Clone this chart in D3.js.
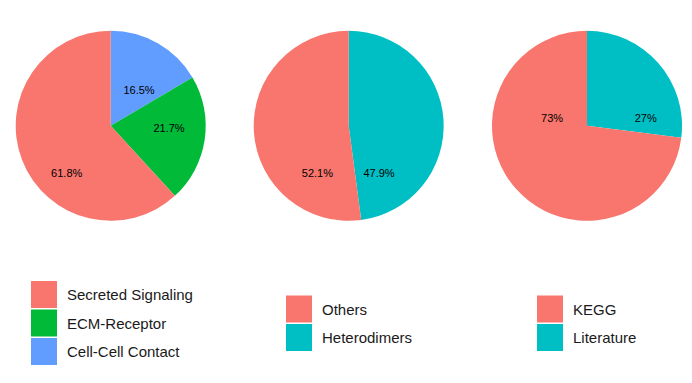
<!DOCTYPE html>
<html><head><meta charset="utf-8">
<script src="https://cdn.jsdelivr.net/npm/d3@7"></script>
<style>body{margin:0;background:#fff}svg{display:block}</style>
</head><body>
<script>
// ---- data ----
const pie1Categories = ["Secreted Signaling", "ECM-Receptor", "Cell-Cell Contact"];
const pie1Values = [61.8, 21.7, 16.5];
const pie1Labels = ["61.8%", "21.7%", "16.5%"];

const pie2Categories = ["Others", "Heterodimers"];
const pie2Values = [52.1, 47.9];
const pie2Labels = ["52.1%", "47.9%"];

const pie3Categories = ["KEGG", "Literature"];
const pie3Values = [73, 27];
const pie3Labels = ["73%", "27%"];

// ---- layout ----
const W = 692, H = 383, R = 95, CY = 125.8;
const palette3 = ["#F8766D", "#00BA38", "#619CFF"];
const palette2 = ["#F8766D", "#00BFC4"];
// label anchors as offsets in units of the radius (as placed in the reference)
const labelOffsets = [
  [[-0.463, 0.50], [0.614, 0.026], [0.298, -0.377]],
  [[-0.33, 0.50], [0.319, 0.50]],
  [[-0.368, -0.079], [0.618, -0.079]]
];
const panels = [
  {cats: pie1Categories, vals: pie1Values, labs: pie1Labels, colors: palette3, cx: 110.7, legX: 31, legY: 281},
  {cats: pie2Categories, vals: pie2Values, labs: pie2Labels, colors: palette2, cx: 348.7, legX: 286, legY: 295.5},
  {cats: pie3Categories, vals: pie3Values, labs: pie3Labels, colors: palette2, cx: 587, legX: 537, legY: 295.5}
];

const svg = d3.select("body").append("svg").attr("width", W).attr("height", H);

panels.forEach((p, pi) => {
  const color = d3.scaleOrdinal().domain(p.cats).range(p.colors);
  const data = p.cats.map((c, i) => ({cat: c, val: p.vals[i], lab: p.labs[i], idx: i}));
  // ggplot order: last level starts at 12 o'clock, clockwise
  const pie = d3.pie().value(d => d.val).sort(null);
  const arcs = pie(data.slice().reverse());
  const arc = d3.arc().innerRadius(0).outerRadius(R);
  const g = svg.append("g").attr("transform", `translate(${p.cx},${CY})`);
  g.selectAll("path").data(arcs).join("path")
    .attr("d", arc).attr("fill", d => color(d.data.cat));
  const r = d3.scaleLinear().domain([0, 1]).range([0, R]);
  g.selectAll("text").data(data).join("text")
    .attr("x", d => r(labelOffsets[pi][d.idx][0]))
    .attr("y", d => r(labelOffsets[pi][d.idx][1]))
    .attr("text-anchor", "middle").attr("dominant-baseline", "central")
    .attr("font-family", "Liberation Sans, Arial, sans-serif").attr("font-size", 11)
    .attr("fill", "#000").text(d => d.lab);

  // legend
  const step = 28.5, key = 27;
  const y = d3.scaleLinear().domain([0, 1]).range([p.legY, p.legY + step]);
  const lg = svg.append("g");
  const items = lg.selectAll("g").data(data).join("g")
    .attr("transform", d => `translate(${p.legX},${y(d.idx)})`);
  items.append("rect").attr("width", 26).attr("height", key)
    .attr("fill", d => color(d.cat));
  items.append("text").attr("x", 36).attr("y", key / 2)
    .attr("dominant-baseline", "central")
    .attr("font-family", "Liberation Sans, Arial, sans-serif").attr("font-size", 15)
    .attr("fill", "#1a1a1a").text(d => d.cat);
});
</script>
</body></html>
